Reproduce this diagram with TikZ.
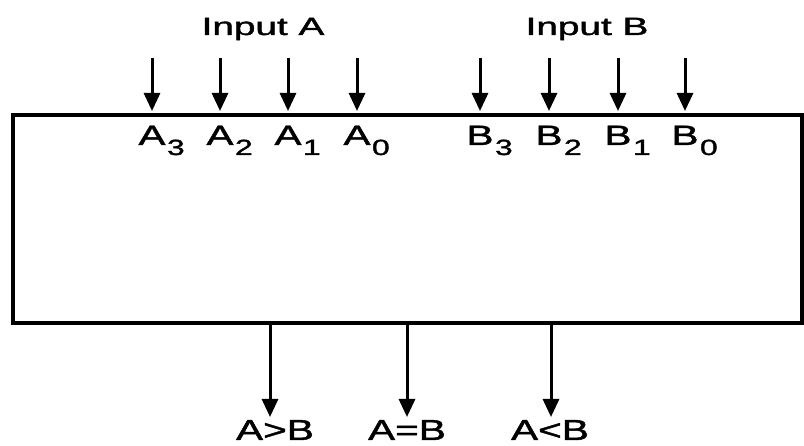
\documentclass[tikz,border=0pt]{standalone}
\usepackage{fontspec}
\setmainfont{Liberation Sans}[FakeBold=1.3]
\usetikzlibrary{arrows.meta}
\tikzset{
  wire/.style={line width=3pt, -{Triangle[width=16pt,length=18pt]}},
  pinlabel/.style={anchor=base, inner sep=0pt, xscale=1.45,
    font=\fontsize{28}{28}\selectfont},
  buslabel/.style={anchor=base, inner sep=0pt, xscale=1.55,
    font=\fontsize{25}{25}\selectfont},
  outlabel/.style={anchor=base, inner sep=0pt, xscale=1.4,
    font=\fontsize{29}{29}\selectfont},
  block/.style={draw, line width=4pt, inner sep=0pt,
    minimum width=789pt, minimum height=208pt}
}
% letter with a lowered subscript that does not widen the node
\newcommand\pinname[2]{#1\rlap{\kern1pt\raisebox{-10pt}{\fontsize{22}{22}\selectfont #2}}}
\begin{document}
\begin{tikzpicture}[x=1pt, y=-1pt]
  \useasboundingbox (0,0) rectangle (804,446);

  % comparator block
  \node[block] (cmp) at (407.5,219) {};

  % bus captions
  \node[buslabel] (inA) at (263,35) {Input A};
  \node[buslabel] (inB) at (587,35) {Input B};

  % input pins
  \foreach \n/\x/\lbl/\s in {a3/152/A/3, a2/220/A/2, a1/288/A/1, a0/357/A/0,
                            b3/480/B/3, b2/549/B/2, b1/618/B/1, b0/685/B/0} {
    \coordinate (\n) at (\x,58);
    \draw[wire] (\n) -- ([yshift=2pt]\n |- cmp.north);
    \node[pinlabel] (\n l) at (\x,145) {\pinname{\lbl}{\s}};
  }

  % outputs
  \foreach \n/\x/\lx/\txt in {gt/270/275/{A>B}, eq/407/407/{A=B}, lt/551/550/{A<B}} {
    \coordinate (\n) at (\x,417);
    \draw[wire] (\n |- cmp.south) -- (\n);
    \node[outlabel] (\n l) at (\lx,440) {\txt};
  }
\end{tikzpicture}
\end{document}
